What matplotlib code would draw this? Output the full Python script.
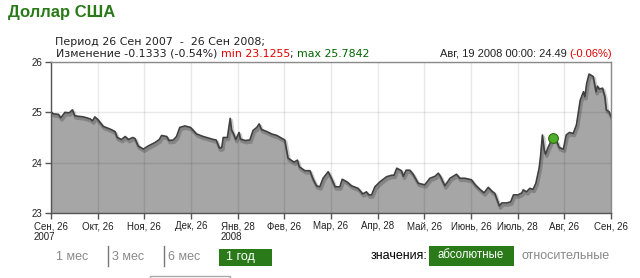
import matplotlib
matplotlib.use("Agg")
import matplotlib.pyplot as plt
import matplotlib.patheffects as pe
from matplotlib.patches import Rectangle

plt.rcParams['font.family'] = ['Liberation Sans', 'DejaVu Sans']

# позиция по оси X в "месяцах" от 26 Сен 2007 (подписи идут равномерно)
month_pos = [0.00, 0.05, 0.16, 0.21, 0.30, 0.39, 0.46, 0.51, 0.69, 0.84, 0.89, 0.94,
             1.01, 1.12, 1.26, 1.37, 1.42, 1.51, 1.59, 1.66, 1.75, 1.80, 1.87, 1.98,
             2.08, 2.23, 2.32, 2.37, 2.48, 2.53, 2.62, 2.69, 2.76, 2.87, 2.99,
             3.12, 3.26, 3.48, 3.54, 3.61, 3.66, 3.69, 3.78, 3.84, 3.87, 3.91, 3.96,
             4.03, 4.06, 4.16, 4.26, 4.33, 4.41, 4.46, 4.51, 4.62, 4.73, 4.84,
             5.01, 5.08, 5.21, 5.28, 5.32, 5.44, 5.55, 5.61, 5.69, 5.76, 5.83, 5.94,
             6.01, 6.09, 6.19, 6.24, 6.34, 6.44, 6.58, 6.68, 6.76, 6.81, 6.87, 6.94,
             7.05, 7.19, 7.30, 7.35, 7.41, 7.51, 7.55, 7.61, 7.69, 7.76, 7.87,
             8.01, 8.12, 8.23, 8.30, 8.35, 8.44, 8.55, 8.69, 8.76, 8.87,
             9.01, 9.09, 9.19, 9.28, 9.37, 9.44, 9.51, 9.61, 9.66, 9.76, 9.85, 9.91,
             10.01, 10.09, 10.12, 10.19, 10.26, 10.33, 10.39, 10.46, 10.49, 10.53,
             10.57, 10.60, 10.66, 10.75, 10.84, 10.89, 10.98,
             11.04, 11.11, 11.19, 11.26, 11.34, 11.41, 11.44, 11.48, 11.53, 11.62,
             11.68, 11.71, 11.75, 11.82, 11.87, 11.90, 11.96, 12.00]
rates = [25.01, 24.97, 24.96, 24.89, 25.00, 24.99, 25.05, 24.93, 24.91, 24.87, 24.83, 24.91,
         24.85, 24.72, 24.67, 24.62, 24.50, 24.46, 24.52, 24.46, 24.50, 24.48, 24.33, 24.27,
         24.33, 24.40, 24.46, 24.54, 24.52, 24.44, 24.45, 24.52, 24.70, 24.73, 24.70,
         24.57, 24.52, 24.46, 24.45, 24.29, 24.30, 24.50, 24.50, 24.88, 24.65, 24.58, 24.46,
         24.60, 24.47, 24.44, 24.45, 24.64, 24.70, 24.77, 24.66, 24.62, 24.57, 24.54,
         24.45, 24.09, 24.01, 24.05, 23.92, 23.84, 23.84, 23.69, 23.54, 23.52, 23.69, 23.82,
         23.69, 23.52, 23.52, 23.67, 23.62, 23.54, 23.49, 23.38, 23.42, 23.36, 23.36, 23.52,
         23.62, 23.72, 23.75, 23.75, 23.89, 23.84, 23.73, 23.85, 23.85, 23.77, 23.59,
         23.56, 23.69, 23.73, 23.79, 23.72, 23.54, 23.69, 23.77, 23.69, 23.69,
         23.66, 23.56, 23.47, 23.40, 23.51, 23.44, 23.39, 23.14, 23.20, 23.20, 23.22, 23.36,
         23.36, 23.40, 23.46, 23.42, 23.49, 23.47, 23.59, 23.89, 24.12, 24.55,
         24.25, 24.17, 24.32, 24.49, 24.42, 24.30, 24.27,
         24.55, 24.60, 24.58, 24.75, 25.24, 25.41, 25.31, 25.58, 25.76, 25.71,
         25.41, 25.52, 25.46, 25.48, 25.31, 25.05, 25.01, 24.91]

tick_labels = ['Сен, 26\n2007', 'Окт, 26', 'Ноя, 26', 'Дек, 26', 'Янв, 28\n2008', 'Фев, 26',
               'Мар, 26', 'Апр, 28', 'Май, 26', 'Июнь, 26', 'Июль, 28', 'Авг, 26', 'Сен, 26']
y_ticks = [23, 24, 25, 26]
marker_pos, marker_rate = 10.75, 24.49

green = '#2a7a1a'
head_font = ['DejaVu Sans']

fig = plt.figure(figsize=(6.4, 2.78), dpi=100)
W, H = 640, 278
ax = fig.add_axes([51 / W, 1 - 213 / H, 560 / W, 151 / H])

ax.fill_between(month_pos, rates, 23, color='#a6a6a6', lw=0, zorder=1)
ax.plot(month_pos, rates, color='#404040', lw=1.2, zorder=3,
        path_effects=[pe.SimpleLineShadow(offset=(0.8, -1.5), shadow_color='k', alpha=0.2, linewidth=2.6),
                      pe.Normal()])
ax.plot([marker_pos], [marker_rate], 'o', ms=7, mfc='#4fae2a', mec='#2b6a10', mew=0.8, zorder=5)

ax.set_xlim(0, 12)
ax.set_ylim(23, 26)
ax.set_xticks(range(13))
ax.set_yticks(y_ticks)
ax.set_yticklabels([str(v) for v in y_ticks])
ax.set_xticklabels(tick_labels, ha='center', multialignment='left')
for lbl in ax.get_xticklabels():
    lbl.set_linespacing(1.05)
ax.tick_params(axis='both', direction='out', length=4, width=1, color='#555555',
               labelsize=7, labelcolor='#222222', pad=2)
ax.grid(True, color='k', alpha=0.09, lw=1, zorder=2)
ax.set_axisbelow(False)
for side in ['left', 'bottom']:
    ax.spines[side].set_color('#555555')
for side in ['top', 'right']:
    ax.spines[side].set_color('#8a8a8a')
for s in ax.spines.values():
    s.set_linewidth(1)
    s.set_zorder(6)

# заголовок и подписи сверху
fig.text(8 / W, 1 - 12 / H, 'Доллар США', color=green, fontsize=12, fontweight='bold', va='center')
fig.text(55 / W, 1 - 42 / H, 'Период 26 Сен 2007  -  26 Сен 2008;', fontsize=7.9,
         family=head_font, color='#222222', va='center')

renderer = fig.canvas.get_renderer()
x = 56 / W
parts = [('Изменение -0.1333 (-0.54%) ', '#222222'), ('min 23.1255', '#e00000'),
         ('; ', '#222222'), ('max 25.7842', '#006600')]
for s, c in parts:
    t = fig.text(x, 1 - 54 / H, s, fontsize=7.9, family=head_font, color=c, va='center')
    bb = t.get_window_extent(renderer)
    x += bb.width / W

t = fig.text(612 / W, 1 - 54 / H, '(-0.06%)', fontsize=8, color='#e00000', va='center', ha='right')
bb = t.get_window_extent(renderer)
fig.text(612 / W - bb.width / W, 1 - 54 / H, 'Авг, 19 2008 00:00: 24.49 ', fontsize=8,
         color='#222222', va='center', ha='right')

# кнопки периода
fig.text(56 / W, 1 - 257 / H, '1 мес', fontsize=9, color='#888888', va='center')
fig.text(111.5 / W, 1 - 257 / H, '3 мес', fontsize=9, color='#888888', va='center')
fig.text(167.5 / W, 1 - 257 / H, '6 мес', fontsize=9, color='#888888', va='center')
for sx in [107.5, 163.5]:
    fig.add_artist(plt.Line2D([sx / W, sx / W], [1 - 246 / H, 1 - 266 / H], color='#777777', lw=1))
fig.add_artist(Rectangle((219 / W, 1 - 266 / H), 53 / W, 17.5 / H, color=green, lw=0))
fig.text(225.5 / W, 1 - 257 / H, '1 год', fontsize=9, color='white', va='center')

fig.text(371 / W, 1 - 256 / H, 'значения:', fontsize=9, color='black', va='center')
fig.add_artist(Rectangle((429 / W, 1 - 266 / H), 85 / W, 20 / H, color=green, lw=0))
fig.text(437 / W, 1 - 255 / H, 'абсолютные', fontsize=8.3, color='white', va='center')
fig.text(522 / W, 1 - 256 / H, 'относительные', fontsize=9, color='#888888', va='center')

fig.add_artist(Rectangle((149.5 / W, 1 - 285 / H), 80 / W, 9 / H, fill=False, ec='#aaaaaa', lw=1))

fig.savefig('out.png', dpi=100)
